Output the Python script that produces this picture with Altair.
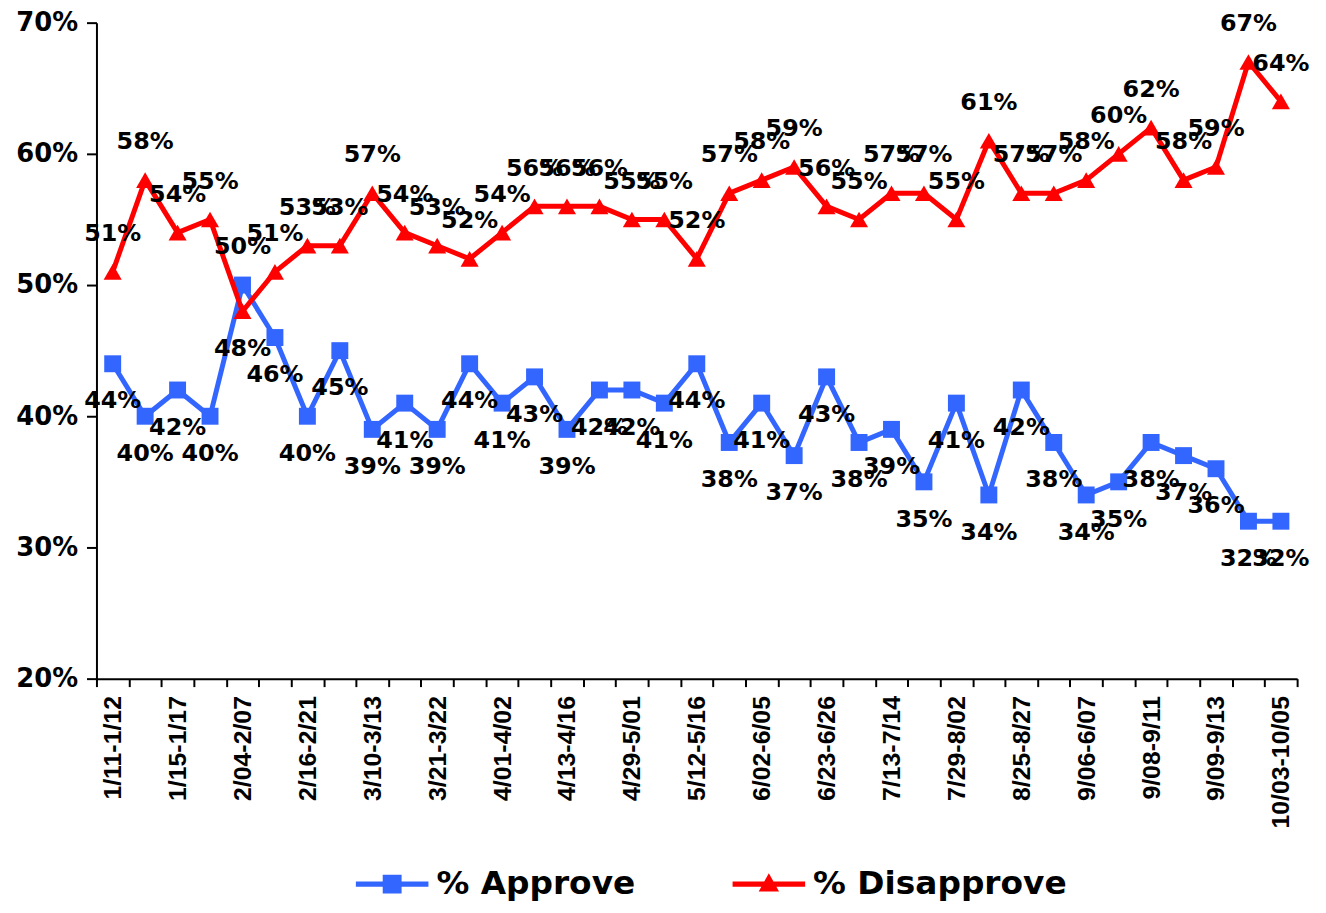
import altair as alt
import pandas as pd

tick_labels = ["1/11-1/12", "1/15-1/17", "2/04-2/07", "2/16-2/21", "3/10-3/13",
               "3/21-3/22", "4/01-4/02", "4/13-4/16", "4/29-5/01", "5/12-5/16",
               "6/02-6/05", "6/23-6/26", "7/13-7/14", "7/29-8/02", "8/25-8/27",
               "9/06-6/07", "9/08-9/11", "9/09-9/13", "10/03-10/05"]
approve = [44, 40, 42, 40, 50, 46, 40, 45, 39, 41, 39, 44, 41, 43, 39, 42, 42, 41, 44,
           38, 41, 37, 43, 38, 39, 35, 41, 34, 42, 38, 34, 35, 38, 37, 36, 32, 32]
disapprove = [51, 58, 54, 55, 48, 51, 53, 53, 57, 54, 53, 52, 54, 56, 56, 56, 55, 55, 52,
              57, 58, 59, 56, 55, 57, 57, 55, 61, 57, 57, 58, 60, 62, 58, 59, 67, 64]
series_names = ["% Approve", "% Disapprove"]
colors = ["#3366FF", "#FF0000"]

n = len(approve)
rows = []
for i in range(n):
    a, d = approve[i], disapprove[i]
    rows.append({"i": i, "series": series_names[0], "value": a, "above": a > d})
    rows.append({"i": i, "series": series_names[1], "value": d, "above": d > a})
df = pd.DataFrame(rows)

W, H = 1208, 660
step = W / n

label_js = "[" + ",".join("'" + t + "'" for t in tick_labels) + "]"
x_axis = alt.Axis(
    values=[k - 0.5 for k in range(n + 1)],
    labelExpr="(datum.value + 0.5) % 2 == 0 ? " + label_js + "[(datum.value + 0.5) / 2] : ''",
    labelAngle=-90, labelAlign="right", labelBaseline="middle",
    labelOffset=step / 2, labelOverlap=False, labelFlush=False, labelBound=False,
    labelFont="Liberation Sans", labelFontWeight="bold", labelFontSize=25, labelColor="black",
    labelPadding=9, tickSize=8, tickWidth=2, tickColor="black",
    domainWidth=2, domainColor="black", grid=False, title=None,
)
y_axis = alt.Axis(
    values=[20, 30, 40, 50, 60, 70], labelExpr="datum.value + '%'",
    labelFont="DejaVu Sans", labelFontWeight="bold", labelFontSize=26, labelColor="black",
    labelPadding=9, tickSize=10, tickWidth=2, tickColor="black",
    domainWidth=2, domainColor="black", grid=False, title=None,
)

x = alt.X("i:Q", scale=alt.Scale(domain=[-0.5, n - 0.5], nice=False, zero=False), axis=x_axis)
y = alt.Y("value:Q", scale=alt.Scale(domain=[20, 70], nice=False, zero=False), axis=y_axis)

base = alt.Chart(df).encode(x=x, y=y)

layers = []
shapes = ["square", "triangle-up"]
sizes = [290, 330]
for s, c, shp, sz in zip(series_names, colors, shapes, sizes):
    sub = base.transform_filter(alt.datum.series == s)
    layers.append(sub.mark_line(color=c, strokeWidth=5))
    layers.append(sub.mark_point(shape=shp, filled=True, color=c, size=sz, opacity=1))

label_base = base.transform_calculate(label="datum.value + '%'")
for flag, off in [(True, -38), (False, 38)]:
    layers.append(
        label_base.transform_filter(alt.datum.above == flag).mark_text(
            font="DejaVu Sans", fontWeight="bold", fontSize=24, color="black",
            dy=off, baseline="middle", align="center"
        ).encode(text="label:N")
    )

legend_paths = [
    "M-1,-0.07H1V0.07H-1Z M-0.26,-0.26H0.26V0.26H-0.26Z",
    "M-1,-0.07H1V0.07H-1Z M0,-0.3L0.28,0.2L-0.28,0.2Z",
]
leg = alt.Legend(
    title=None, orient="none", legendX=261, legendY=830, direction="horizontal",
    symbolSize=5329, symbolStrokeWidth=0, symbolOpacity=1,
    labelFont="DejaVu Sans", labelFontWeight="bold", labelFontSize=33, labelColor="black",
    labelOffset=8, labelLimit=0, columnPadding=97,
)
legend_layer = alt.Chart(df).transform_filter("false").mark_point(filled=True, opacity=1).encode(
    color=alt.Color("series:N", scale=alt.Scale(domain=series_names, range=colors), legend=leg),
    shape=alt.Shape("series:N", scale=alt.Scale(domain=series_names, range=legend_paths), legend=leg),
)
layers.append(legend_layer)

chart = alt.layer(*layers).properties(
    width=W, height=H,
    autosize=alt.AutoSizeParams(type="none"),
    padding={"left": 89, "top": 12, "right": 21, "bottom": 225},
).configure_view(strokeWidth=0)

chart.save("out.html", embed_options={"renderer": "svg", "actions": False})
